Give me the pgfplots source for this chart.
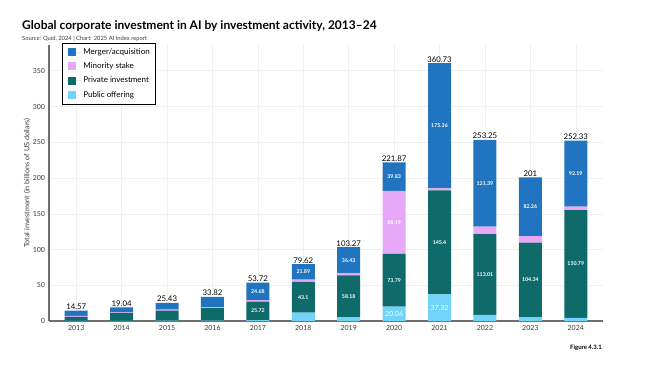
\documentclass[border=0pt]{standalone}
\usepackage{fontspec}
\setmainfont{Lato}
\usepackage{pgfplots}
\usepackage{pgfplotstable}
\pgfplotsset{compat=1.18}
\definecolor{cMA}{HTML}{2175C0}
\definecolor{cMS}{HTML}{E6A8F7}
\definecolor{cPI}{HTML}{0F6B69}
\definecolor{cPO}{HTML}{6FD3FA}
\definecolor{gridc}{HTML}{F0F0F0}
\definecolor{axc}{HTML}{6E6E6E}
\definecolor{txc}{HTML}{3A3A3A}

\pgfplotstableread{
x po pi ms ma tot
0 0.3 5.5 1.3 7.47 14.57
1 0.3 11.0 0.7 7.04 19.04
2 0.5 14.0 1.5 9.43 25.43
3 0.5 17.5 1.5 14.32 33.82
4 1.3 25.72 2.02 24.68 53.72
5 11.8 43.1 2.83 21.89 79.62
6 5.6 58.18 3.06 36.43 103.27
7 20.06 73.79 88.19 39.83 221.87
8 37.32 145.4 2.65 175.36 360.73
9 8.5 113.01 10.35 121.39 253.25
10 5.4 104.34 9.0 82.26 201
11 4.35 150.79 5.0 92.19 252.33
}\data

% label positions (segment midpoints) and texts
\pgfplotstableread{
x y lab
4 14.16 25.72
4 41.38 24.68
5 33.35 43.1
5 68.675 21.89
6 34.69 58.18
6 85.06 36.43
7 56.955 73.79
7 137.945 88.19
7 201.955 39.83
8 110.02 145.4
8 273.05 175.36
9 65.005 113.01
9 192.555 121.39
10 57.57 104.34
10 159.87 82.26
11 79.745 150.79
11 206.235 92.19
}\segs
\pgfplotstableread{
x y lab
7 10.03 20.06
8 18.66 37.32
}\segsb

\pgfplotsset{common/.style={
  at={(49pt,-321pt)}, anchor=south west,
  scale only axis, width=554pt, height=276pt,
  xmin=-0.6, xmax=11.6, ymin=0, ymax=386}}

\begin{document}
\begin{tikzpicture}[x=1pt,y=1pt]
\path[use as bounding box] (0,0) rectangle (660,-384);
\node[anchor=base west, inner sep=0, font=\fontsize{12}{14}\selectfont\bfseries] at (22,-29) {Global corporate investment in AI by investment activity, 2013–24};
\node[anchor=base west, inner sep=0, font=\fontsize{5.8}{7}\selectfont, text=txc] at (22,-40.5) {Source: Quid, 2024 | Chart: 2025 AI Index report};
\node[anchor=west, inner sep=0, font=\fontsize{6}{7}\selectfont\bfseries] at (570,-348) {Figure 4.3.1};
\begin{axis}[common,
  ybar stacked, bar width=23pt,
  axis x line=bottom, axis y line=left,
  axis line style={draw=axc, line width=1.1pt, -},
  major tick length=0pt,
  xtick={0,...,11},
  xticklabels={2013,2014,2015,2016,2017,2018,2019,2020,2021,2022,2023,2024},
  ytick={0,50,...,350},
  grid=major, major grid style={draw=gridc, line width=0.5pt},
  /pgf/number format/assume math mode=true,
  tick label style={font=\fontsize{7}{8}\selectfont, text=txc},
  xticklabel style={yshift=-1pt},
  yticklabel style={xshift=-0.5pt},
  every axis y label/.style={at={(axis description cs:-0.0397,0.5)}, rotate=90, anchor=center, font=\fontsize{7.2}{8}\selectfont, text=txc},
  ylabel={Total investment (in billions of US dollars)},
  reverse legend,
  legend cell align=left,
  legend style={at={(0.0235,1.0072)}, anchor=north west, draw=black, line width=0.7pt,
    font=\fontsize{8}{9}\selectfont, inner xsep=4pt, inner ysep=3pt, row sep=3pt},
  legend image code/.code={\fill[#1] (2pt,-4pt) rectangle (10pt,4pt); \path (0pt,0pt) -- (15pt,0pt);},
]
\addplot[fill=cPO, draw=none] table[x=x, y=po] {\data};
\addlegendentry{Public offering}
\addplot[fill=cPI, draw=none] table[x=x, y=pi] {\data};
\addlegendentry{Private investment}
\addplot[fill=cMS, draw=none] table[x=x, y=ms] {\data};
\addlegendentry{Minority stake}
\addplot[fill=cMA, draw=none] table[x=x, y=ma] {\data};
\addlegendentry{Merger/acquisition}
\end{axis}
\begin{axis}[common, hide axis]
\addplot[only marks, mark=none, nodes near coords, point meta=explicit symbolic,
  every node near coord/.style={font=\fontsize{7.8}{8}\selectfont, text=black, anchor=south, inner sep=0.8pt}]
  table[x=x, y=tot, meta=tot] {\data};
\addplot[only marks, mark=none, nodes near coords, point meta=explicit symbolic,
  every node near coord/.style={font=\fontsize{5.3}{6}\selectfont\bfseries, text=white, anchor=center, inner sep=0pt}]
  table[x=x, y=y, meta=lab] {\segs};
\addplot[only marks, mark=none, nodes near coords, point meta=explicit symbolic,
  every node near coord/.style={font=\fontsize{7}{8}\selectfont, text=white, anchor=center, inner sep=0pt}]
  table[x=x, y=y, meta=lab] {\segsb};
\end{axis}
\end{tikzpicture}
\end{document}
